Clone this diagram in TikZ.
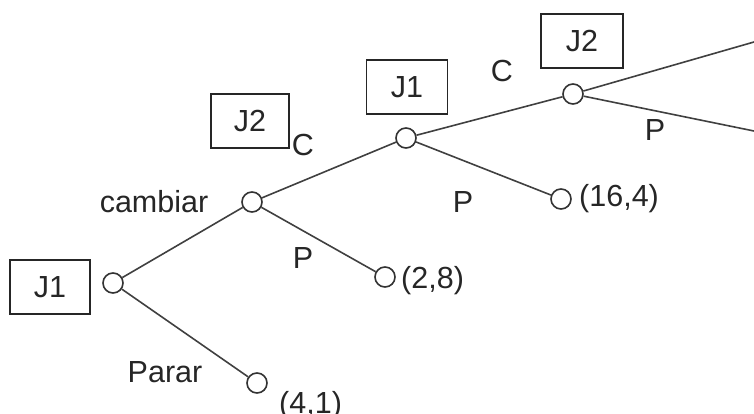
\documentclass[tikz,border=0pt]{standalone}
\usepackage{fontspec}
\setmainfont{Liberation Sans}
\begin{document}
\begin{tikzpicture}[x=1pt,y=-1pt,
  lbl/.style={font=\fontsize{30.5}{36}\selectfont, inner sep=0pt, text=black!85},
  pbox/.style={draw=black!85, line width=1.6pt, minimum width=80pt, minimum height=54pt, inner sep=0pt, font=\fontsize{30.5}{36}\selectfont, text=black!85},
  dot/.style={circle, draw=black!80, line width=1.6pt, fill=white, minimum size=20pt, inner sep=0pt},
  edge/.style={draw=black!75, line width=1.6pt}]
\useasboundingbox (0,0) rectangle (754,414);
% decision nodes
\node[dot] (A) at (113,283) {};
\node[dot] (B) at (252,202) {};
\node[dot] (C) at (406,138) {};
\node[dot] (D) at (573,94) {};
% terminal nodes
\node[dot] (T1) at (257,383) {};
\node[dot] (T2) at (385,277) {};
\node[dot] (T3) at (561,199) {};
\coordinate (E1) at (754,42);
\coordinate (E2) at (754,131);
% edges
\path[edge] (A) -- (B);
\path[edge] (A) -- (T1);
\path[edge] (B) -- (C);
\path[edge] (B) -- (T2);
\path[edge] (C) -- (D);
\path[edge] (C) -- (T3);
\path[edge] (D) -- (E1);
\path[edge] (D) -- (E2);
% player boxes
\node[pbox] (b1) at (50,287) {J1};
\node[pbox, minimum width=78pt] (b2) at (250,121) {J2};
\node[pbox, minimum width=81pt] (b3) at (407,87) {J1};
\node[pbox, minimum width=82pt] (b4) at (582,41) {J2};
% action labels
\node[lbl] (l1) at (303,145) {C};
\node[lbl, anchor=base] (l2) at (154,212) {cambiar};
\node[lbl] (l3) at (303,258) {P};
\node[lbl] (l4) at (165,372) {Parar};
\node[lbl] (l5) at (463,202) {P};
\node[lbl] (l6) at (502,71) {C};
\node[lbl] (l7) at (655,130) {P};
% payoffs
\node[lbl, anchor=base west] (p1) at (279,413) {(4,1)};
\node[lbl, anchor=west] (p2) at (401,281) {(2,8)};
\node[lbl, anchor=west] (p3) at (579,199) {(16,4)};
\end{tikzpicture}
\end{document}
